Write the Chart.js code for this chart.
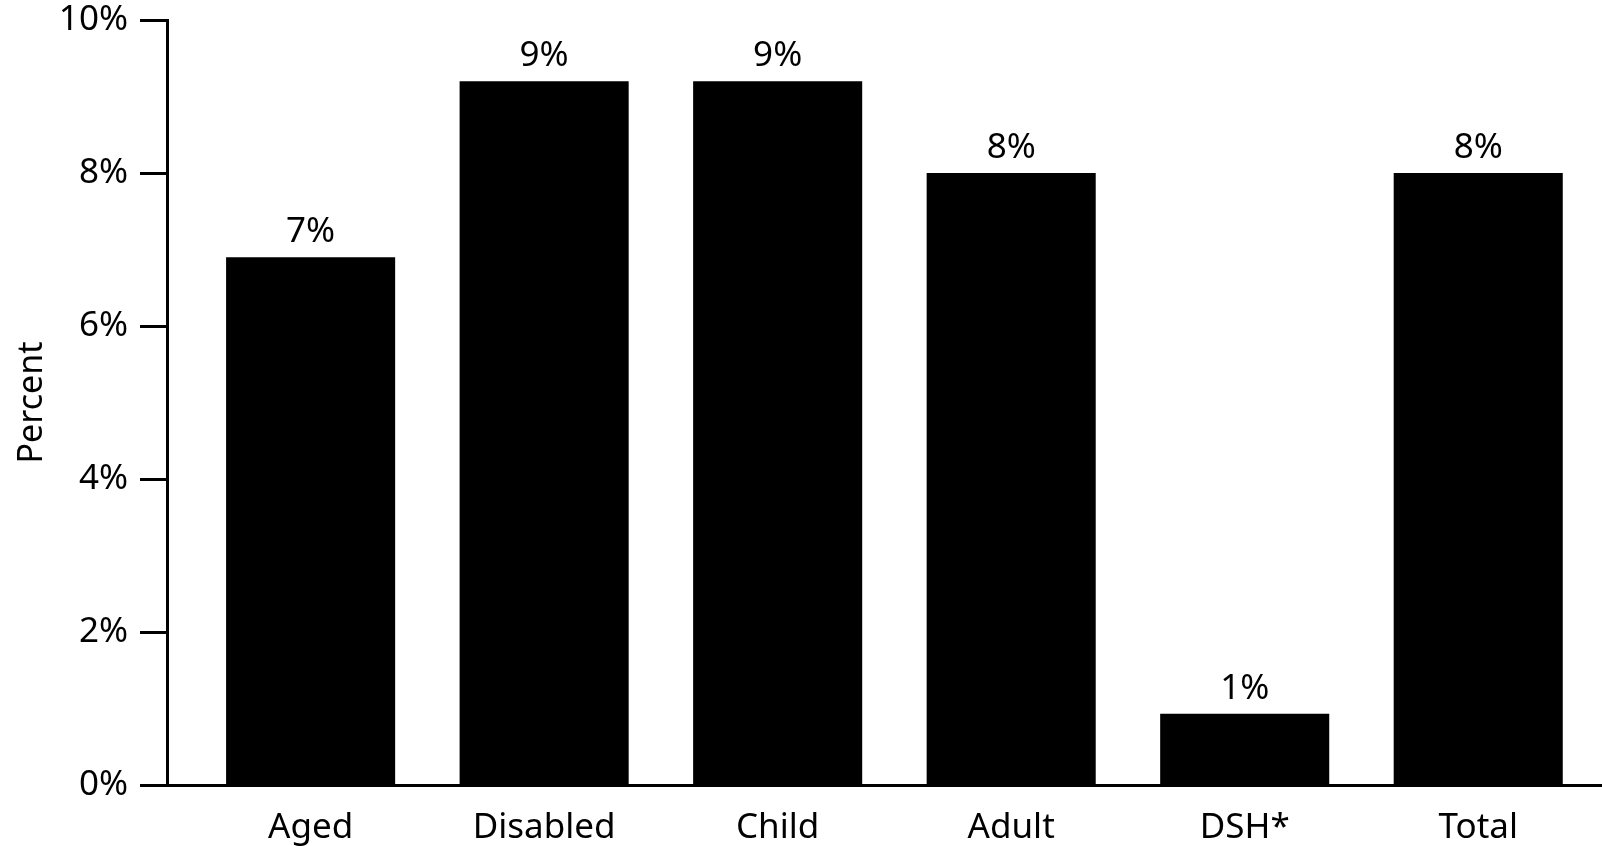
<!DOCTYPE html>
<html>
<head>
<meta charset="utf-8">
<script src="https://cdn.jsdelivr.net/npm/chart.js@4/dist/chart.umd.min.js"></script>
<style>
  html, body { margin: 0; padding: 0; background: #fff; }
  #wrap { width: 1602px; height: 846px; }
</style>
</head>
<body>
<div id="wrap"><canvas id="chart"></canvas></div>
<script>
const categories = ["Aged", "Disabled", "Child", "Adult", "DSH*", "Total"];
const percentValues = [6.9, 9.2, 9.2, 8.0, 0.93, 8.0];
const yTicks = [0, 2, 4, 6, 8, 10];

const FONT = "'Noto Sans', sans-serif";

// percent labels above each bar
const barLabels = {
  id: "barLabels",
  afterDatasetsDraw(chart) {
    const ctx = chart.ctx;
    const meta = chart.getDatasetMeta(0);
    ctx.save();
    ctx.fillStyle = "#000";
    ctx.font = "35px " + FONT;
    ctx.textAlign = "center";
    ctx.textBaseline = "alphabetic";
    meta.data.forEach((bar, i) => {
      ctx.fillText(Math.round(percentValues[i]) + "%", bar.x, bar.y - 15);
    });
    ctx.restore();
  },
};

new Chart(document.getElementById("chart"), {
  type: "bar",
  data: {
    datasets: [
      {
        data: percentValues.map((v, i) => ({ x: i, y: v })),
        backgroundColor: "#000",
        borderWidth: 0,
        barPercentage: 0.724,
        categoryPercentage: 1,
      },
    ],
  },
  options: {
    responsive: true,
    maintainAspectRatio: false,
    animation: false,
    layout: { padding: 0 },
    plugins: { legend: { display: false }, tooltip: { enabled: false } },
    scales: {
      x: {
        type: "linear",
        offset: false,
        min: -0.615,
        max: 5.53,
        afterBuildTicks: (scale) => {
          scale.ticks = categories.map((c, i) => ({ value: i }));
        },
        afterFit: (scale) => {
          scale.height = 61;
        },
        grid: { drawOnChartArea: false, drawTicks: false },
        border: { color: "#000", width: 3 },
        ticks: {
          autoSkip: false,
          maxRotation: 0,
          padding: 22,
          color: "#000",
          font: { family: FONT, size: 35 },
          callback: (v) => categories[v],
        },
      },
      y: {
        min: 0,
        max: 10,
        afterBuildTicks: (scale) => {
          scale.ticks = yTicks.map((v) => ({ value: v }));
        },
        afterFit: (scale) => {
          scale.width = 167;
        },
        grid: {
          drawOnChartArea: false,
          tickLength: 27,
          tickWidth: 3,
          tickColor: "#000",
        },
        border: { color: "#000", width: 3 },
        ticks: {
          padding: 12,
          color: "#000",
          font: { family: FONT, size: 35, lineHeight: 0.46 },
          callback: (v) => v + "%",
        },
        title: {
          display: true,
          text: "Percent",
          color: "#000",
          padding: { top: 12, bottom: 0 },
          font: { family: FONT, size: 34 },
        },
      },
    },
  },
  plugins: [barLabels],
});
</script>
</body>
</html>
